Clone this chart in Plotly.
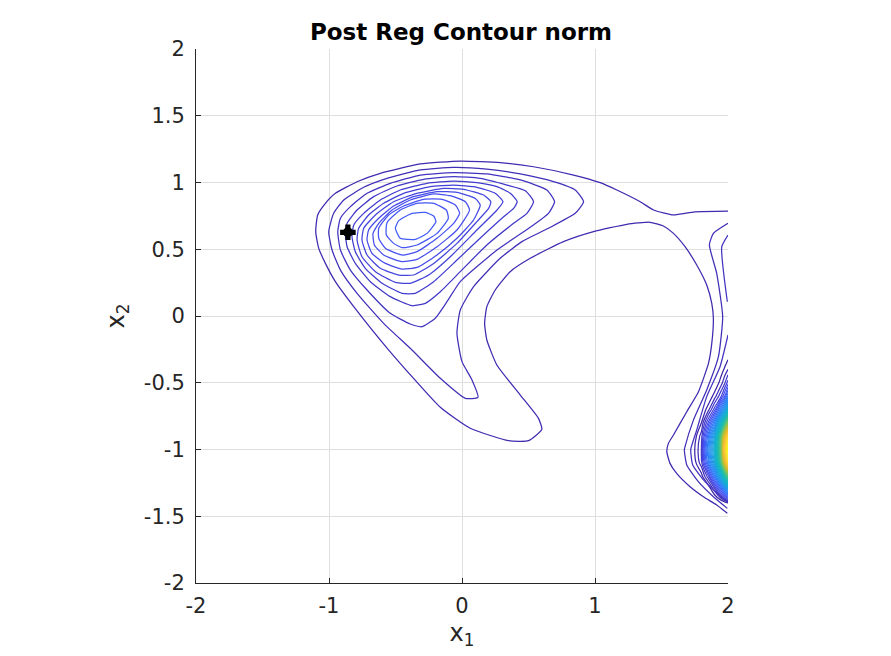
import plotly.graph_objects as go
from plotly.colors import sample_colorscale

level_a = [(2.0,.785),(1.75,.78),(1.59,.757),(1.44,.794),(1.34,.856),(1.164,.944),(1.039,.999),(.839,1.056),(.538,1.118),(.288,1.149),(-.013,1.161),(-.313,1.139),(-.614,1.069),(-.789,1.006),(-.952,.919),(-1.027,.844),(-1.085,.757),(-1.10,.632),(-1.077,.507),(-1.027,.394),(-.952,.257),(-.814,.07),(-.551,-.255),(-.163,-.684),(.062,-.841),(.35,-.934),(.50,-.934),(.60,-.849),(.575,-.767),(.438,-.592),(.262,-.367),(.187,-.18),(.17,-.055),(.187,.07),(.25,.195),(.362,.332),(.513,.432),(.763,.557),(.989,.632),(1.239,.687),(1.414,.702),(1.514,.674),(1.59,.619),(1.677,.519),(1.765,.382),(1.84,.232),(1.878,.095),(1.89,-.017),(1.878,-.205),(1.853,-.355),(1.778,-.567),(1.69,-.717),(1.59,-.891),(1.552,-.954),(1.54,-1.016),(1.564,-1.104),(1.614,-1.179),(1.715,-1.279),(1.815,-1.354),(1.915,-1.416),(1.995,-1.478)]
level_b = [(.914,.856),(.851,.944),(.688,1.006),(.438,1.064),(.187,1.101),(-.063,1.114),(-.313,1.094),(-.564,1.031),(-.739,.964),(-.889,.869),(-.965,.769),(-1.002,.632),(-.977,.494),(-.914,.344),(-.789,.17),(-.589,-.055),(-.376,-.255),(-.163,-.467),(.025,-.617),(.12,-.609),(.075,-.479),(0,-.342),(-.038,-.13),(-.013,.045),(.087,.22),(.287,.432),(.45,.557),(.65,.657),(.851,.769),(.914,.856)]
level_b_right = [(2.0,.694),(1.89,.619),(1.86,.532),(1.915,.32),(1.96,-.005),(1.928,-.305),(1.84,-.554),(1.74,-.78),(1.677,-.979),(1.672,-1.004),(1.69,-1.116),(1.777,-1.241),(1.89,-1.354),(1.995,-1.441)]
level_c = [(.696,.856),(.638,.944),(.438,1.019),(.187,1.064),(-.063,1.074),(-.313,1.056),(-.539,.994),(-.714,.919),(-.839,.819),(-.914,.732),(-.934,.632),(-.914,.494),(-.839,.344),(-.714,.195),(-.539,.02),(-.389,-.06),(-.301,-.08),(-.201,-.017),(-.113,.107),(-.013,.257),(.263,.494),(.538,.682),(.65,.769),(.696,.856)]
level_c_top = [(2.0,.607),(1.953,.519),(1.995,.107)]
level_c_low = [(2.0,-.142),(1.94,-.38),(1.84,-.604),(1.765,-.854),(1.72,-1.0),(1.735,-1.116),(1.827,-1.241),(2.0,-1.40)]
level_d = [(.538,.856),(.476,.939),(.338,.981),(.137,1.031),(-.063,1.044),(-.288,1.024),(-.489,.974),(-.664,.894),(-.789,.794),(-.864,.694),(-.877,.619),(-.864,.519),(-.802,.394),(-.689,.257),(-.539,.145),(-.376,.077),(-.276,.095),(-.163,.182),(-.013,.332),(.187,.532),(.388,.694),(.488,.769),(.538,.856)]
level_e = [(.415,.856),(.363,.919),(.263,.969),(.112,.999),(-.063,1.011),(-.263,.994),(-.464,.944),(-.614,.869),(-.739,.769),(-.814,.682),(-.827,.594),(-.802,.482),(-.727,.357),(-.601,.245),(-.451,.17),(-.351,.17),(-.213,.257),(-.038,.419),(.162,.607),(.313,.744),(.388,.806),(.415,.856)]
level_f = [(.308,.856),(.25,.919),(.112,.964),(-.063,.981),(-.238,.969),(-.439,.919),(-.589,.844),(-.702,.757),(-.777,.657),(-.789,.569),(-.752,.444),(-.651,.332),(-.501,.252),(-.389,.245),(-.251,.307),(-.088,.444),(.112,.644),(.263,.794),(.308,.856)]
level_g = [(.217,.856),(.162,.906),(.012,.949),(-.138,.956),(-.339,.919),(-.514,.856),(-.651,.757),(-.739,.657),(-.752,.569),(-.714,.457),(-.614,.357),(-.476,.307),(-.364,.307),(-.213,.394),(-.038,.544),(.112,.707),(.2,.806),(.217,.856)]
level_h = [(.137,.831),(.1,.881),(-.038,.926),(-.188,.931),(-.364,.894),(-.514,.824),(-.626,.732),(-.702,.644),(-.714,.569),(-.677,.469),(-.576,.394),(-.451,.352),(-.338,.364),(-.188,.457),(-.038,.582),(.087,.719),(.137,.831)]
level_i = [(.057,.794),(.025,.856),(-.088,.901),(-.213,.914),(-.389,.869),(-.526,.794),(-.626,.694),(-.669,.619),(-.659,.532),(-.589,.457),(-.451,.407),(-.338,.424),(-.188,.519),(-.038,.644),(.057,.794)]
level_j = [(-.018,.769),(-.05,.831),(-.151,.874),(-.288,.874),(-.439,.824),(-.551,.757),(-.626,.657),(-.626,.582),(-.576,.507),(-.451,.457),(-.338,.482),(-.188,.582),(-.063,.694),(-.018,.769)]
level_k = [(-.103,.732),(-.118,.794),(-.213,.844),(-.338,.844),(-.464,.794),(-.564,.699),(-.569,.607),(-.514,.544),(-.451,.512),(-.338,.532),(-.188,.619),(-.103,.732)]
level_l = [(-.196,.707),(-.213,.749),(-.276,.776),(-.376,.769),(-.476,.714),(-.501,.657),(-.464,.582),(-.351,.574),(-.263,.619),(-.196,.707)]

# Height table of the steep peak on the right edge
peak_x = [1.70, 1.75, 1.80, 1.85, 1.90, 1.95, 1.975, 2.0]
peak_y = [-1.45, -1.4, -1.3, -1.2, -1.1, -1.0, -.9, -.8, -.7, -.6, -.5, -.4, -.3]
peak_z = [
    [0.3, 0.4, 0.5, 0.8, 1.2, 1.6, 2.0, 2.4],
    [0.4, 0.6, 0.8, 1.2, 1.8, 2.6, 3.2, 4.0],
    [0.8, 1.1, 1.6, 2.6, 5.5, 10.0, 13.0, 16.0],
    [1.5, 2.2, 3.5, 6.5, 12.0, 20.0, 26.0, 31.0],
    [2.2, 3.6, 5.6, 11.5, 18.0, 30.0, 39.0, 47.0],
    [2.5, 4.0, 6.0, 13.0, 20.0, 32.0, 45.0, 50.0],
    [2.0, 3.5, 5.5, 11.5, 18.0, 31.0, 40.0, 47.0],
    [1.5, 2.5, 4.0, 8.0, 13.0, 22.0, 28.0, 34.0],
    [1.2, 2.0, 3.0, 4.5, 7.5, 13.0, 16.0, 21.0],
    [1.0, 1.5, 2.2, 3.0, 4.5, 7.0, 9.0, 12.0],
    [0.9, 1.2, 1.6, 2.0, 3.0, 4.6, 5.8, 7.5],
    [0.8, 1.0, 1.2, 1.6, 2.0, 3.5, 4.2, 5.0],
    [0.6, 0.8, 1.0, 1.2, 1.6, 2.4, 3.0, 3.6],
]

marker_x = [-0.858]
marker_y = [0.627]

tick_vals = [-2, -1.5, -1, -0.5, 0, 0.5, 1, 1.5, 2]
x_tick_vals = [-2, -1, 0, 1, 2]
x_tick_text = ["-2", "-1", "0", "1", "2"]
y_tick_text = ["-2", "-1.5", "-1", "-0.5", "0", "0.5", "1", "1.5", "2"]

PARULA = [[0, "#3e26a8"], [.1, "#4752f4"], [.2, "#2c84fa"], [.3, "#1f9fe0"], [.4, "#10b5cc"],
          [.5, "#25bca5"], [.6, "#5bc57a"], [.7, "#aec138"], [.8, "#eaba30"], [.9, "#fac937"], [1, "#f9fb15"]]

fig = go.Figure()

# (line, level index)
lines = [(level_a, 0), (level_b, 1), (level_b_right, 1), (level_c, 2), (level_c_top, 2), (level_c_low, 2),
         (level_d, 3), (level_e, 4), (level_f, 5), (level_g, 6), (level_h, 7), (level_i, 8),
         (level_j, 9), (level_k, 10), (level_l, 11)]
for pts, lvl in lines:
    col = sample_colorscale(PARULA, (lvl + 1) * 0.01)[0]
    fig.add_trace(go.Scatter(x=[p[0] for p in pts], y=[p[1] for p in pts], mode="lines",
                             line=dict(color=col, width=1.25, shape="spline", smoothing=0.5),
                             showlegend=False, hoverinfo="skip"))

fig.add_trace(go.Contour(x=peak_x, y=peak_y, z=peak_z, zmin=0, zmax=50, colorscale=PARULA, showscale=False,
                         autocontour=False, contours=dict(coloring="lines", start=4, end=50, size=1),
                         line=dict(width=1.25, smoothing=0.85), hoverinfo="skip"))

for symbol, size in (("cross", 13), ("circle", 10)):
    fig.add_trace(go.Scatter(x=marker_x, y=marker_y, mode="markers", showlegend=False,
                             marker=dict(symbol=symbol, size=size, color="black")))

font = dict(family="DejaVu Sans", color="#262626")
axis = dict(range=[-2, 2], showgrid=True, gridcolor="#dfdfdf", gridwidth=1, zeroline=False,
            showline=True, linecolor="#262626", linewidth=1, ticks="inside", ticklen=5,
            tickcolor="#262626", tickwidth=1, tickfont=dict(size=21, **font), mirror=False)
fig.update_layout(
    width=883, height=648, autosize=False, paper_bgcolor="white", plot_bgcolor="white",
    margin=dict(l=188, r=163, t=41, b=73),
    title=dict(text="<b>Post Reg Contour norm</b>", x=453 / 883, xanchor="center", y=1 - 24 / 648, yanchor="middle",
               font=dict(size=23, family="DejaVu Sans", color="black")),
    xaxis=dict(axis, tickvals=x_tick_vals, ticktext=x_tick_text, ticklabelstandoff=4,
               title=dict(text="x<sub>1</sub>", font=dict(size=24, **font), standoff=6)),
    yaxis=dict(axis, tickvals=tick_vals, ticktext=y_tick_text, ticklabelstandoff=6,
               title=dict(text="x<sub>2</sub>", font=dict(size=24, **font), standoff=12)),
)
fig.write_html("out.html")
